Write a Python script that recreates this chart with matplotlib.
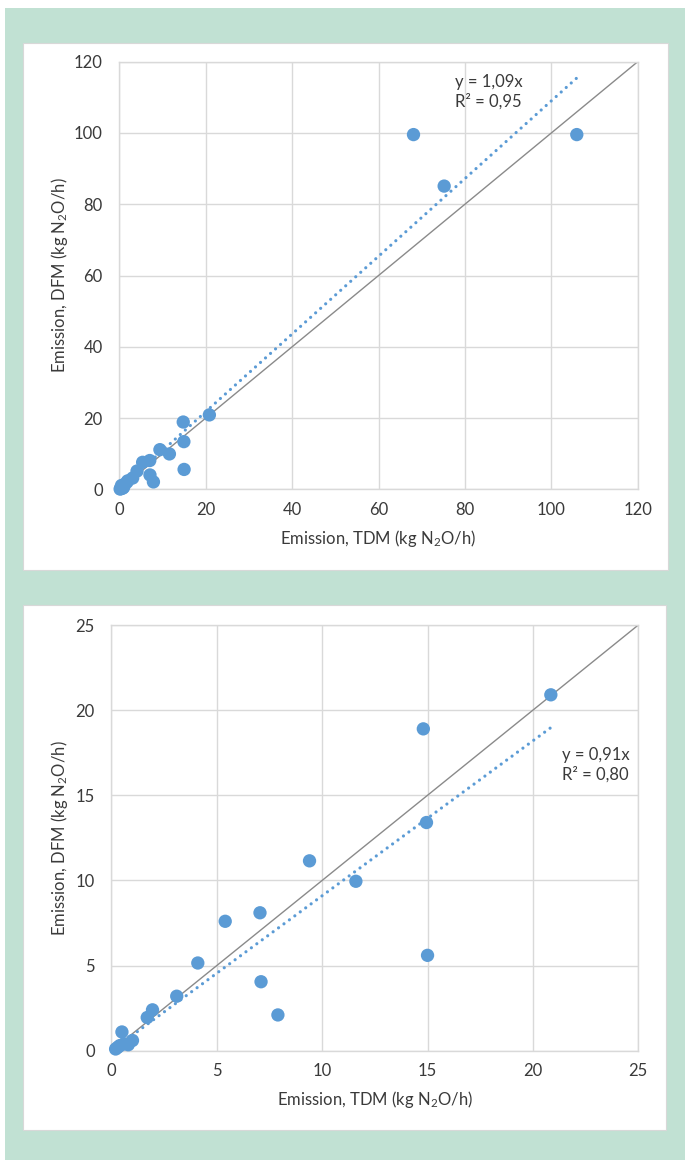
import matplotlib
matplotlib.use("Agg")
import matplotlib.pyplot as plt
from matplotlib.patches import Rectangle
import numpy as np

# Emission measured by two methods (kg N2O/h)
tdm = [0.2, 0.3, 0.4, 0.6, 0.8, 1.0, 0.5, 1.7, 1.95, 3.1, 4.1, 5.4, 7.05, 7.1,
       7.9, 9.4, 11.6, 14.8, 14.95, 15.0, 20.85, 68.1, 75.2, 105.9]
dfm = [0.1, 0.2, 0.3, 0.4, 0.35, 0.6, 1.1, 1.95, 2.4, 3.2, 5.15, 7.6, 8.1, 4.05,
       2.1, 11.15, 9.95, 18.9, 13.4, 5.6, 20.9, 99.55, 85.1, 99.55]

# Fitted trendlines through origin
slope_all, r2_all = 1.09, 0.95
slope_low, r2_low = 0.91, 0.80

top_ticks = [0, 20, 40, 60, 80, 100, 120]
low_ticks = [0, 5, 10, 15, 20, 25]
low_limit = 25

plt.rcParams['font.family'] = ['Lato', 'DejaVu Sans']
plt.rcParams['mathtext.fontset'] = 'custom'
plt.rcParams['mathtext.rm'] = 'Lato'
plt.rcParams['mathtext.default'] = 'regular'

W, H = 685, 1160
fig = plt.figure(figsize=(W / 100, H / 100), dpi=100)
fig.patch.set_facecolor('white')

GREEN = '#c1e1d3'
BLUE = '#5b9bd5'
GRID = '#d9d9d9'
TEXT = '#3a3a3a'
FS = 12


def px_rect(x0, y0, x1, y1, **kw):
    """Rectangle given in pixel coordinates measured from the top-left corner."""
    fig.patches.append(Rectangle((x0 / W, 1 - y1 / H), (x1 - x0) / W, (y1 - y0) / H,
                                 transform=fig.transFigure, figure=fig, **kw))


px_rect(5, 8, 685, 1160, facecolor=GREEN, edgecolor='none', zorder=-2)
px_rect(23, 43, 668, 570, facecolor='white', edgecolor='#d8d8d8', lw=0.8, zorder=-1)
px_rect(23, 605, 666, 1130, facecolor='white', edgecolor='#d8d8d8', lw=0.8, zorder=-1)


def px_axes(x0, y0, x1, y1):
    return fig.add_axes([x0 / W, 1 - y1 / H, (x1 - x0) / W, (y1 - y0) / H])


xlabel = 'Emission, TDM (kg N$_2$O/h)'
ylabel = 'Emission, DFM (kg N$_2$O/h)'


def style(ax, ticks):
    lim = ticks[-1]
    ax.set_xlim(0, lim)
    ax.set_ylim(0, lim)
    ax.set_xticks(ticks)
    ax.set_yticks(ticks)
    ax.grid(True, color=GRID, lw=1.0, zorder=0)
    ax.set_axisbelow(True)
    for s in ax.spines.values():
        s.set_color(GRID)
        s.set_linewidth(1.0)
    ax.tick_params(axis='both', length=0, labelsize=FS, colors=TEXT)
    ax.tick_params(axis='x', pad=9)
    ax.tick_params(axis='y', pad=12)
    ax.set_xlabel(xlabel, fontsize=FS, color=TEXT, labelpad=7)
    ax.set_ylabel(ylabel, fontsize=FS, color=TEXT)
    # vertical title sits at the same column in both panels
    ax.yaxis.set_label_coords(70 / W, 0.5,
                              transform=matplotlib.transforms.blended_transform_factory(
                                  fig.transFigure, ax.transAxes))
    ax.set_facecolor('none')
    ax.plot([0, lim], [0, lim], color='#8a8a8a', lw=1.0, zorder=2)


def fmt(v):
    return f'{v:.2f}'.replace('.', ',')


def trend(ax, xv, slope):
    xs = np.array([xv.min(), xv.max()])
    ax.plot(xs, slope * xs, color=BLUE, lw=2.3, linestyle=(0, (0.01, 2.1)),
            dash_capstyle='round', zorder=4)


x = np.array(tdm)
y = np.array(dfm)

# Full range
ax1 = px_axes(119.3, 61.7, 637.7, 489.4)
style(ax1, top_ticks)
ax1.scatter(x, y, s=92, color=BLUE, edgecolors='none', zorder=3, clip_on=False)
trend(ax1, x, slope_all)
ax1.text(77.8, 111.6, f'y = {fmt(slope_all)}x\nR² = {fmt(r2_all)}', fontsize=FS,
         color=TEXT, ha='left', va='center', linespacing=1.2)

# Low range
ax2 = px_axes(111.4, 625, 638.3, 1050.7)
style(ax2, low_ticks)
m = x <= low_limit
ax2.scatter(x[m], y[m], s=92, color=BLUE, edgecolors='none', zorder=3, clip_on=False)
trend(ax2, x[m], slope_low)
ax2.text(21.4, 16.8, f'y = {fmt(slope_low)}x\nR² = {fmt(r2_low)}', fontsize=FS,
         color=TEXT, ha='left', va='center', linespacing=1.2)

fig.savefig('out.png', dpi=100, facecolor=fig.get_facecolor())
